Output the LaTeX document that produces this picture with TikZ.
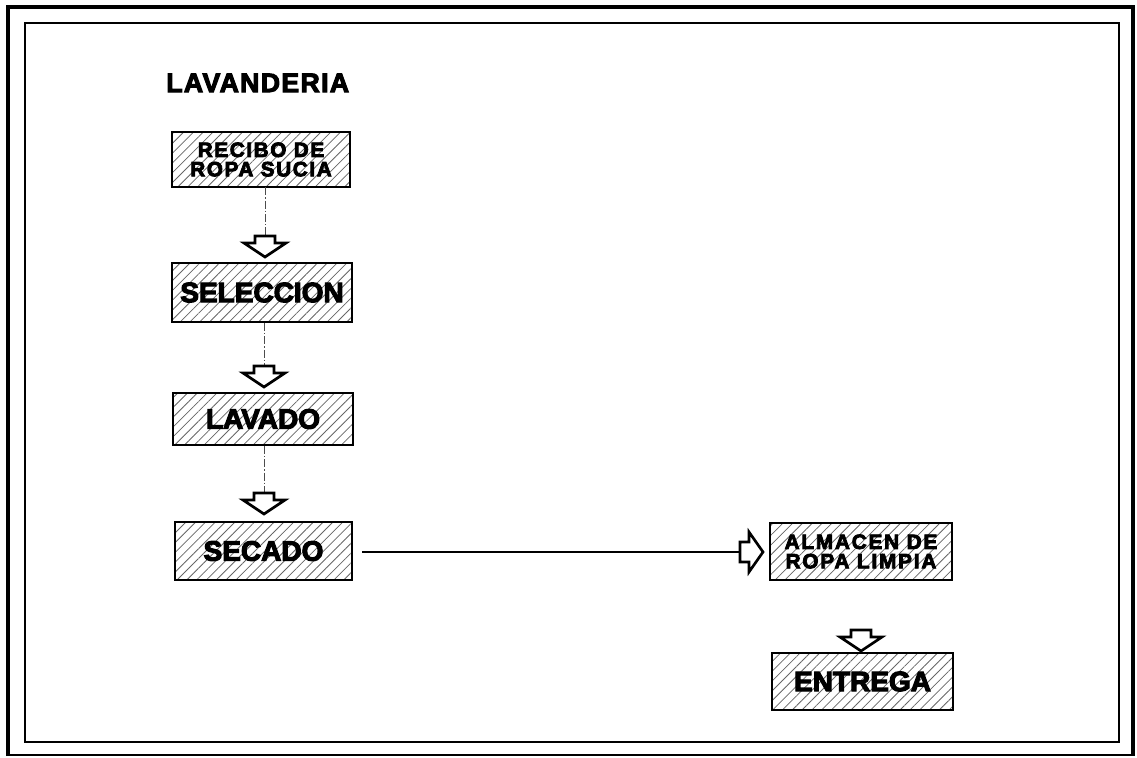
\documentclass[tikz,border=0pt]{standalone}
\usepackage{fontspec}
\newfontfamily\heavy{Liberation Sans Bold}[FakeBold=4]
\usetikzlibrary{patterns.meta}
\tikzset{
  procbox/.style={draw=black, line width=1.3pt, inner sep=0pt, align=center,
    pattern={Lines[angle=45,distance=5.2pt,line width=0.6pt]}, pattern color=black!60},
  bigtxt/.style={font=\fontsize{21}{21}\selectfont\heavy},
  smalltxt/.style={font=\fontsize{15.5}{15.5}\selectfont\heavy\addfontfeatures{LetterSpace=8}},
  conn/.style={draw=black!70, line width=0.6pt, dash pattern=on 6pt off 1.5pt on 1pt off 1.5pt},
  hollow/.style={draw=black, line width=2pt, fill=white, line join=miter},
  hline/.style={draw=black, line width=1pt}
}
\newcommand\downarr[1]{\draw[hollow,shift={(#1)}] (-10,0) -- (-10,7) -- (-21,7) -- (0,21) -- (21,7) -- (10,7) -- (10,0) -- cycle;}
\newcommand\rightarr[1]{\draw[hollow,shift={(#1)}] (0,-10) -- (9,-10) -- (9,-20) -- (23,0) -- (9,20) -- (9,10) -- (0,10) -- cycle;}
\begin{document}
\begin{tikzpicture}[x=0.75pt,y=-0.75pt]
\useasboundingbox (0,0) rectangle (1137,757);
% borders
\draw[line width=3.6pt] (8,756) -- (8,7) -- (1133,7) -- (1133,756);
\draw[line width=1.4pt] (8,755) -- (1133,755);
\draw[line width=1.9pt] (25,23) rectangle (1119,742);
% title
\node[anchor=base west, inner sep=0pt, font=\fontsize{20}{20}\selectfont\heavy\addfontfeatures{LetterSpace=5}] (title) at (166,92) {LAVANDERIA};
% boxes
\node[procbox, minimum width=133.5pt, minimum height=41.25pt, smalltxt] (recibo) at (261,159.5) {RECIBO DE\\[-1pt]ROPA SUCIA};
\node[procbox, minimum width=135pt, minimum height=44.25pt, bigtxt] (seleccion) at (262,292.5) {SELECCION};
\node[procbox, minimum width=135pt, minimum height=39pt, bigtxt] (lavado) at (263,419) {LAVADO};
\node[procbox, minimum width=132.75pt, minimum height=43.5pt, bigtxt] (secado) at (263.5,551) {SECADO};
\node[procbox, minimum width=136.5pt, minimum height=42.75pt, font=\fontsize{15.5}{15.5}\selectfont\heavy\addfontfeatures{LetterSpace=9}] (almacen) at (861,551.5) {ALMACEN DE\\[-1pt]ROPA LIMPIA};
\node[procbox, minimum width=135.75pt, minimum height=42.75pt, bigtxt] (entrega) at (862.5,681.5) {ENTREGA};
% arrow positions
\coordinate (a1) at (265,236);
\coordinate (a2) at (264,366);
\coordinate (a3) at (264,493);
\coordinate (a4) at (861,630);
\coordinate (ar) at (740,552);
% connectors
\draw[conn] (recibo.south -| a1) -- (a1);
\draw[conn] (seleccion.south -| a2) -- (a2);
\draw[conn] (lavado.south -| a3) -- (a3);
\draw[hline, shorten <=7pt] (secado.east |- ar) -- (ar);
% hollow arrows
\downarr{a1}
\downarr{a2}
\downarr{a3}
\downarr{a4}
\rightarr{ar}
\end{tikzpicture}
\end{document}
